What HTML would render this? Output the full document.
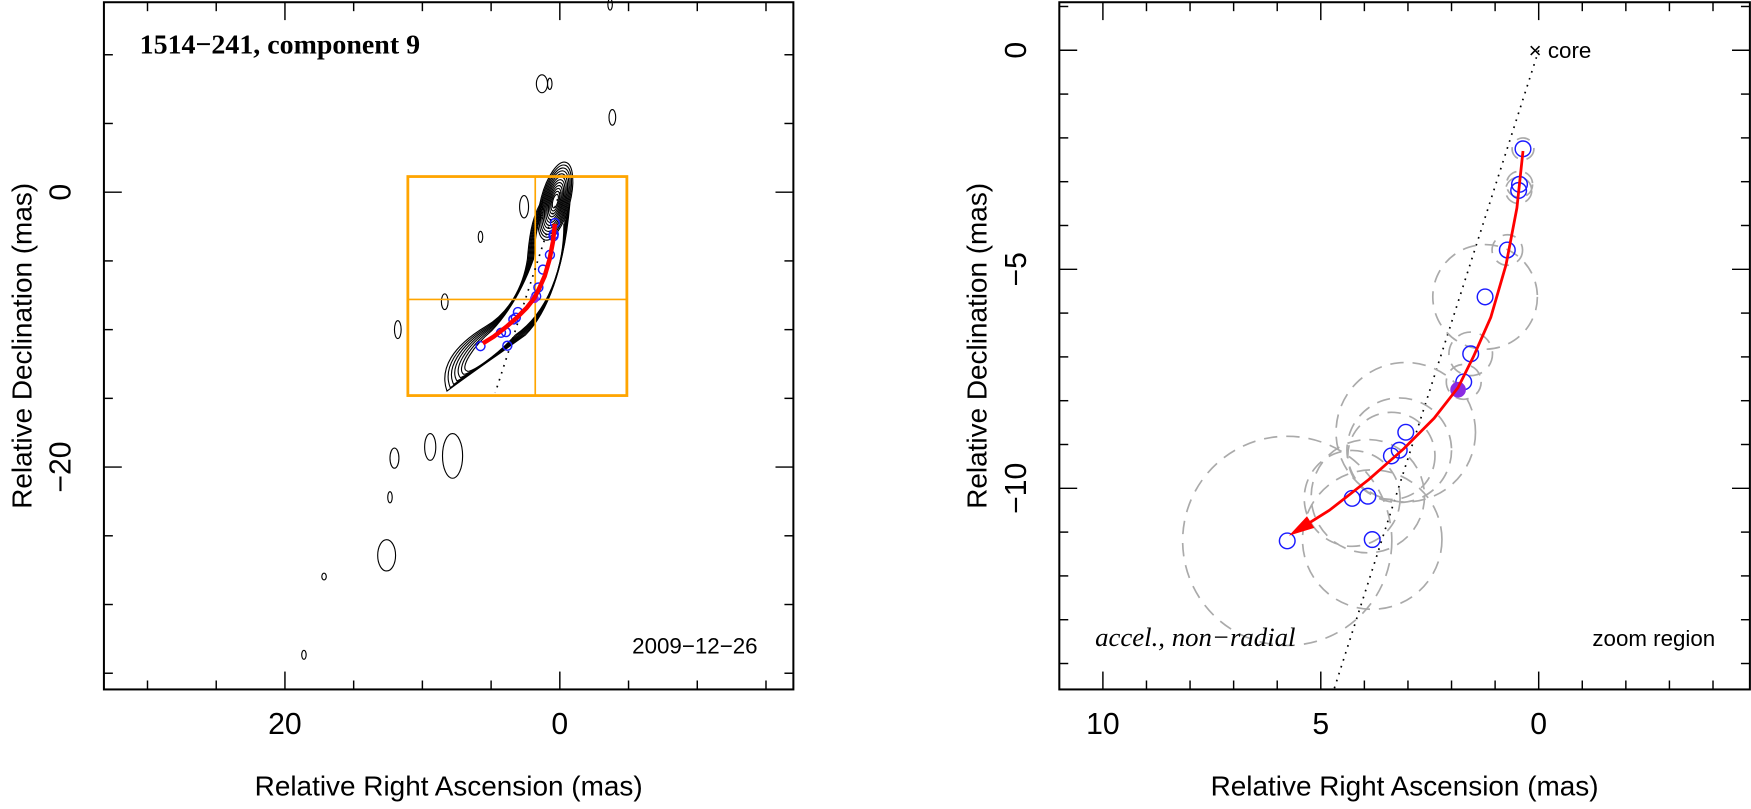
<!DOCTYPE html>
<html><head><meta charset="utf-8"><style>
body{margin:0;background:#fff}
svg{display:block}
text{font-family:"Liberation Sans","DejaVu Sans",sans-serif;fill:#000}
</style></head><body>
<svg id="c" width="1751" height="809" viewBox="0 0 1567 724" preserveAspectRatio="none" xmlns="http://www.w3.org/2000/svg">
<g id="left"></g>
<g id="right"></g>
</svg>
<script>
// data (RA mas, Dec mas)
const ptRA  = [0.36,0.44,0.46,0.72,1.23,1.56,1.72,3.05,3.20,3.38,3.92,4.28,3.82,5.77];
const ptDec = [-2.25,-3.06,-3.20,-4.56,-5.63,-6.93,-7.57,-8.72,-9.13,-9.26,-10.18,-10.23,-11.17,-11.20];
const errR  = [0.25,0.3,0.3,0.35,1.2,0.5,0.4,1.6,1.2,1.0,1.3,1.1,1.6,2.4];
const refRA = [1.85]; const refDec=[-7.75];
const curveRA  = [0.36,0.5,0.75,1.1,1.5,1.85,2.4,3.1,3.9,4.8,5.6];
const curveDec = [-2.3,-3.6,-4.9,-6.1,-7.0,-7.7,-8.4,-9.1,-9.8,-10.5,-11.0];
const coreLine = [[0,0],[4.7,-14.6]];
const leftTicks=[20,0]; const leftYTicks=[0,-20];
const rightXTicks=[10,5,0]; const rightYTicks=[0,-5,-10];

const NS="http://www.w3.org/2000/svg";
function mk(p,t,a,txt){const e=document.createElementNS(NS,t);for(const k in a)e.setAttribute(k,a[k]);if(txt!==undefined)e.textContent=txt;p.appendChild(e);return e;}

function panel(g,box,sx,sy,ox,oy,xt,yt,minorX,minorY,xminRange,yminRange){
  const X=v=>ox-v*sx, Y=v=>oy-v*sy;
  const fr=mk(g,'rect',{x:box[0],y:box[1],width:box[2]-box[0],height:box[3]-box[1],fill:'none',stroke:'#000','stroke-width':1.8});
  
  for(let v=xminRange[0];v<=xminRange[1];v+=minorX){const x=X(v);if(x<box[0]+1||x>box[2]-1)continue;
    const big=xt.includes(Math.round(v*100)/100);const L=big?16:8;
    mk(g,'line',{x1:x,y1:box[3],x2:x,y2:box[3]-L,stroke:'#000','stroke-width':1.3});
    mk(g,'line',{x1:x,y1:box[1],x2:x,y2:box[1]+L,stroke:'#000','stroke-width':1.3});}
  for(let v=yminRange[0];v<=yminRange[1];v+=minorY){const y=Y(v);if(y<box[1]+1||y>box[3]-1)continue;
    const big=yt.includes(Math.round(v*100)/100);const L=big?16:8;
    mk(g,'line',{x1:box[0],y1:y,x2:box[0]+L,y2:y,stroke:'#000','stroke-width':1.3});
    mk(g,'line',{x1:box[2],y1:y,x2:box[2]-L,y2:y,stroke:'#000','stroke-width':1.3});}
  xt.forEach(v=>{const t=mk(g,'text',{x:X(v),y:box[3]+40,'font-size':27,'text-anchor':'middle'},String(v));
    });
  yt.forEach(v=>{const x=box[0]-30,y=Y(v);const t=mk(g,'text',{x:x,y:y,'font-size':27,'text-anchor':'middle',transform:`rotate(-90 ${x} ${y})`},v<0?'\u2212'+(-v):String(v));
    });
  const xl=mk(g,'text',{x:(box[0]+box[2])/2,y:712,'font-size':25,'text-anchor':'middle'},'Relative Right Ascension (mas)');
  
  const yx=box[0]-65,yy=(box[1]+box[3])/2;
  const yl=mk(g,'text',{x:yx,y:yy,'font-size':25,'text-anchor':'middle',transform:`rotate(-90 ${yx} ${yy})`},'Relative Declination (mas)');
  
  return {X,Y};
}
function overlay(g,X,Y,s,clip,errs){
  const cl=mk(g,'line',{x1:X(coreLine[0][0]),y1:Y(coreLine[0][1]),x2:X(coreLine[1][0]),y2:Y(coreLine[1][1]),stroke:'#000','stroke-width':1.5,'stroke-dasharray':'1.5 5'});
  
  if(errs){ptRA.forEach((r,i)=>{const c=mk(g,'circle',{cx:X(r),cy:Y(ptDec[i]),r:errR[i]*s,fill:'none',stroke:'#aaa','stroke-width':1.5,'stroke-dasharray':'12 8'});
    });}
  const cr=errs?7:4;
  ptRA.forEach((r,i)=>{const c=mk(g,'circle',{cx:X(r),cy:Y(ptDec[i]),r:cr,fill:'none',stroke:'#1a1aff','stroke-width':1.3});
    });
  const f=mk(g,'circle',{cx:X(refRA[0]),cy:Y(refDec[0]),r:cr,fill:'#8a2be2'});
  
  let d='M'+curveRA.map((r,i)=>X(r)+','+Y(curveDec[i])).join(' L');
  const p=mk(g,'path',{d:d,fill:'none',stroke:'#f00','stroke-width':errs?2.5:4,'stroke-linejoin':'round'});
  
  if(errs){const n=curveRA.length;const x1=X(curveRA[n-2]),y1=Y(curveDec[n-2]),x2=X(curveRA[n-1]),y2=Y(curveDec[n-1]);
    const a=Math.atan2(y2-y1,x2-x1),L=18,w=0.35;
    const ah=mk(g,'path',{d:`M${x2+6*Math.cos(a)},${y2+6*Math.sin(a)} L${x2-L*Math.cos(a-w)},${y2-L*Math.sin(a-w)} L${x2-L*Math.cos(a+w)},${y2-L*Math.sin(a+w)}Z`,fill:'#f00'});
    }
}
// LEFT
const L=document.getElementById('left');
const lp=panel(L,[93,2,710,617],12.3,12.3,501,172,leftTicks,leftYTicks,5,5,[-20,40],[-40,20]);
// contours
const cg=mk(L,'g',{fill:'none',stroke:'#000','stroke-width':1});

for(let k=0;k<12;k++){const s=1-k*0.075;
  mk(cg,'ellipse',{cx:497,cy:180,rx:13*s,ry:36*s,transform:`rotate(15 497 180)`});}
for(let k=0;k<7;k++){const e=k*3;
  mk(cg,'path',{d:`M${510-e*0.3},${182+e} C${505},${240} ${490},${280} ${470-e*0.5},${300} C${445},${318} ${420},${335} ${400+e},${350-e} C${393+e},${330} ${405+e},${310} ${435+e*0.3},${292+e*0.2} C${455},${280} ${468},${258} ${472+e*0.3},${232} C${474+e*0.3},${205} ${478+e*0.3},${190} ${486},${178+e}`});}
[[485,75,5,8],[492,75,2,5],[548,105,3,7],[430,212,2,5],[469,185,4,10],[398,270,3,7],[356,295,3,8],[546,4,2,5],[385,400,5,12],[353,410,4,9],[349,445,2,5],[346,497,8,14],[290,516,2,3],[272,586,2,4],[405,408,9,20]].forEach(e=>mk(cg,'ellipse',{cx:e[0],cy:e[1],rx:e[2],ry:e[3]}));
// orange box
const ob=mk(L,'g',{fill:'none',stroke:'#ffa500','stroke-width':2.5});

mk(ob,'rect',{x:365,y:158,width:196,height:196});
mk(ob,'line',{x1:479,y1:158,x2:479,y2:354,'stroke-width':1.5});
mk(ob,'line',{x1:365,y1:268,x2:561,y2:268,'stroke-width':1.5});
overlay(L,lp.X,lp.Y,12.3,null,false);
let t=mk(L,'text',{x:125,y:48,'font-size':25,'font-weight':'bold',style:'font-family:"Liberation Serif",serif'},'1514\u2212241, component 9');

t=mk(L,'text',{x:678,y:585,'font-size':20,'text-anchor':'end'},'2009\u221212\u221226');

// RIGHT
const R=document.getElementById('right');
const rp=panel(R,[948,2,1566,617],39,39.2,1377,45,rightXTicks,rightYTicks,1,1,[-5,15],[-16,2]);
overlay(R,rp.X,rp.Y,39,null,true);
t=mk(R,'text',{x:1368,y:52,'font-size':20},'\u00d7 core');

t=mk(R,'text',{x:980,y:578,'font-size':24,'font-style':'italic',style:'font-family:"Liberation Serif",serif'},'accel., non\u2212radial');

t=mk(R,'text',{x:1535,y:578,'font-size':20,'text-anchor':'end'},'zoom region');

</script>
</body></html>
